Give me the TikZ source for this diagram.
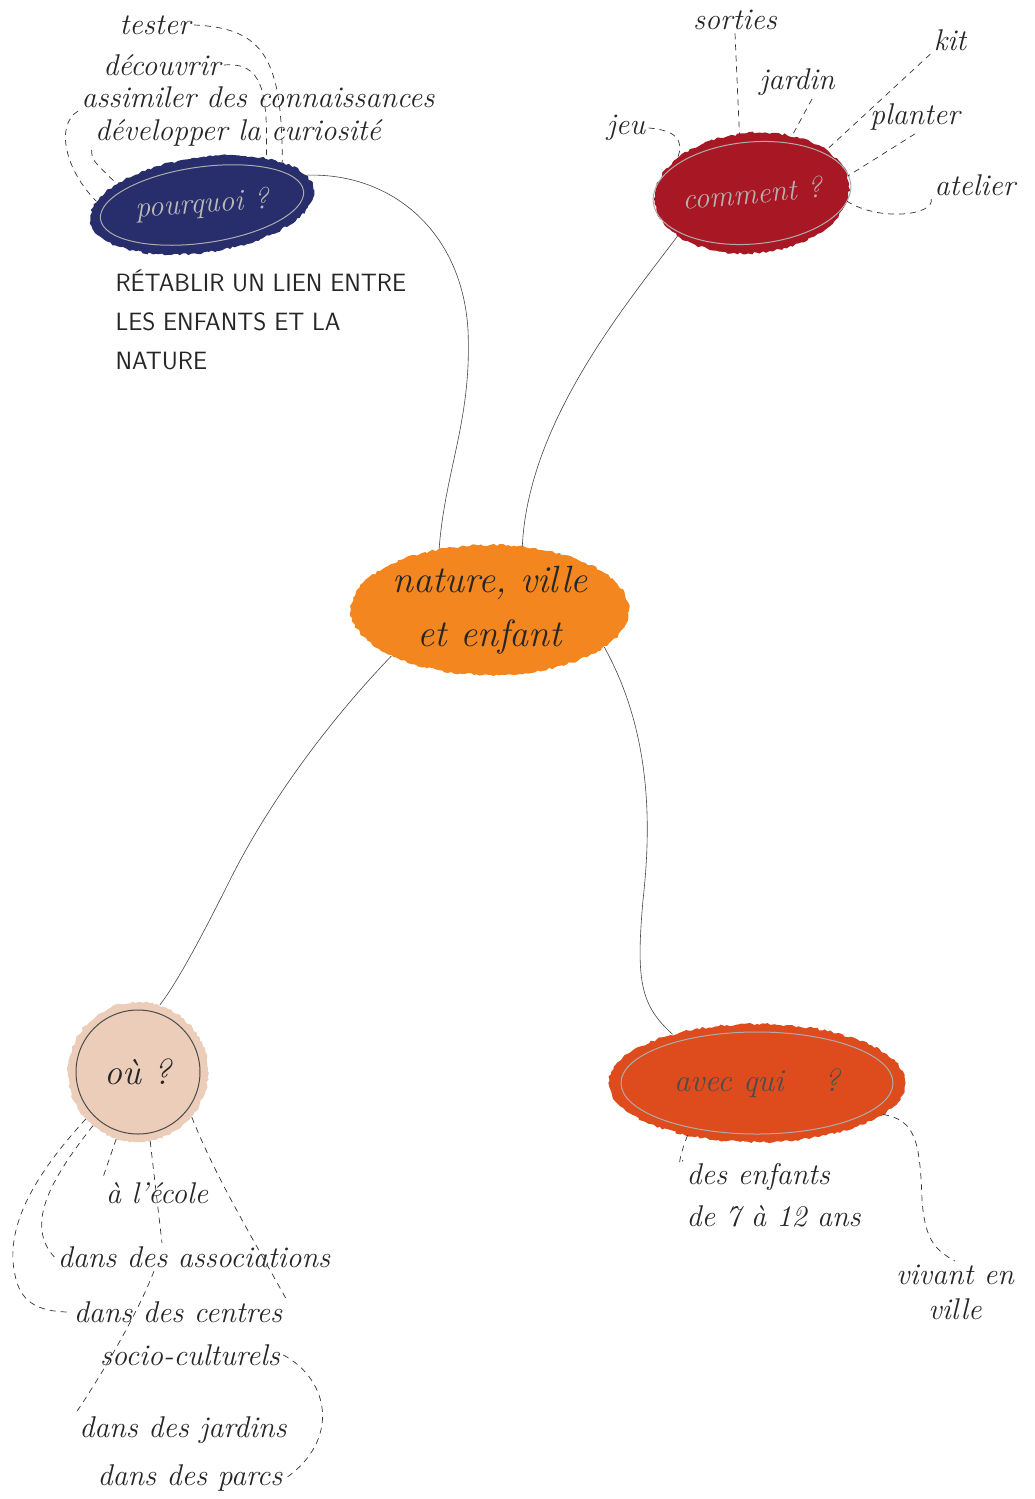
\documentclass[tikz,border=0pt]{standalone}
\usepackage{fontspec}
\usetikzlibrary{shapes.geometric,decorations.pathmorphing}

\definecolor{pqblue}{RGB}{40,45,108}
\definecolor{cmred}{RGB}{168,24,36}
\definecolor{ctorange}{RGB}{244,134,32}
\definecolor{oupeach}{RGB}{235,205,186}
\definecolor{aqorange}{RGB}{222,76,30}

\begin{document}
\begin{tikzpicture}[x=1pt, y=-1pt,
  every node/.style={font=\fontsize{30}{42}\selectfont\itshape, text=black!85},
  blob/.style={ellipse, inner sep=0pt, decorate, decoration={random steps, segment length=3pt, amplitude=1.2pt}},
  ring/.style={ellipse, draw=gray!65, line width=1pt, inner sep=0pt},
  caps/.style={font=\fontsize{25}{39}\selectfont\sffamily, align=left},
  link/.style={gray!55!black, line width=.6pt},
  hint/.style={dashed, dash pattern=on 6pt off 5pt, line width=.7pt, black!80}]

\path [use as bounding box, fill=white] (0,0) rectangle (1035,1499);

\node [blob, fill=pqblue, minimum width=225, minimum height=95, rotate=8] (pq) at (202,205) {};
\node [ring, minimum width=205, minimum height=76, rotate=8] (pqring) at (pq) {};
\node [text=gray!55, rotate=4] (pqtext) at (pq) {pourquoi ?};
\node [blob, fill=cmred, minimum width=195, minimum height=120, rotate=5] (cm) at (752,193) {};
\node [ring, minimum width=186, minimum height=102, rotate=5, text=gray!60] (cmring) at (cm) {comment ?};
\node [blob, fill=ctorange, minimum width=278, minimum height=130, align=center, font=\fontsize{38}{54}\selectfont\itshape] (ctr) at (490,610) {nature, ville\\et enfant};
\node [blob, fill=oupeach, minimum size=140] (ou) at (138,1072) {};
\node [ellipse, draw=black!70, line width=1pt, minimum size=124, font=\fontsize{36}{40}\selectfont\itshape] (ouring) at (ou) {où ?};
\node [blob, fill=aqorange, minimum width=297, minimum height=118] (aq) at (757,1083) {};
\node [ring, minimum width=272, minimum height=102, text=black!70, font=\fontsize{32}{40}\selectfont\itshape] (aqring) at (aq) {avec qui\hspace{40pt}?};

\node (tester) at (155,25) {tester};
\node (decouvrir) at (162,65) {découvrir};
\node (assimiler) at (258,97) {assimiler des connaissances};
\node (developper) at (238,133) {développer la curiosité};
\node [caps, anchor=north west] (retablir) at (112,266) {RÉTABLIR UN LIEN ENTRE\\LES ENFANTS ET LA\\NATURE};

\node (sorties) at (735,20) {sorties};
\node (jardin) at (797,82) {jardin};
\node (kit) at (950,40) {kit};
\node (jeu) at (626,128) {jeu};
\node (planter) at (915,117) {planter};
\node (atelier) at (975,185) {atelier};

\node (ecole) at (157,1193) {à l'école};
\node (assoc) at (194,1257) {dans des associations};
\node (centres) at (178,1312) {dans des centres};
\node (socio) at (190,1355) {socio-culturels};
\node (jardins) at (183,1430) {dans des jardins};
\node (parcs) at (190,1478) {dans des parcs};

\node [anchor=north west, align=left] (enfants) at (683,1160) {des enfants\\de 7 à 12 ans};
\node [align=center, font=\fontsize{30}{35}\selectfont\itshape] (vivant) at (955,1292) {vivant en\\ville};

\draw [link] (ctr.130) .. controls (445,470) and (472,420) .. (468,330) .. controls (462,230) and (390,172) .. (pq.8);
\draw [link] (ctr.63) .. controls (528,420) and (630,300) .. (cm.205);
\draw [link] (ctr.205) .. controls (330,720) and (270,800) .. (230,880) .. controls (195,950) and (175,985) .. (ou.72);
\draw [link] (ctr.-18) .. controls (650,730) and (652,820) .. (643,900) .. controls (636,980) and (640,1005) .. (aq.150);

\draw [hint] (tester.east) .. controls (265,28) and (282,60) .. (pq.20);
\draw [hint] (decouvrir.east) .. controls (262,62) and (268,90) .. (pq.28);
\draw [hint] (assimiler.south west) .. controls (55,125) and (65,170) .. (pq.170);
\draw [hint] (developper.south west) .. controls (92,160) .. (pq.158);

\draw [hint] (sorties.south) -- (cm.97);
\draw [hint] ([xshift=15]jardin.south) -- (cm.50);
\draw [hint] (jeu.east) .. controls (675,130) and (685,140) .. (cm.150);
\draw [hint] (kit.south west) -- (cm.25);
\draw [hint] (planter.south) -- (cm.5);
\draw [hint] (atelier.south west) .. controls (935,215) and (880,222) .. (cm.-10);

\draw [hint] (ou.222) .. controls (30,1180) and (5,1230) .. (15,1275) .. controls (20,1300) and (35,1312) .. (centres.west);
\draw [hint] (ou.230) .. controls (50,1180) and (25,1225) .. (assoc.west);
\draw [hint] (ou.252) -- (ecole.north west);
\draw [hint] (ou.280) -- ([xshift=-32]assoc.north);
\draw [hint] ([xshift=-40]assoc.south) .. controls (135,1320) and (95,1385) .. (jardins.north west);
\draw [hint] (ou.-40) .. controls (215,1175) and (245,1225) .. (centres.north east);
\draw [hint] (socio.east) .. controls (330,1380) and (340,1440) .. (parcs.east);

\draw [hint] (aq.217) .. controls (678,1160) and (678,1170) .. (enfants.north west);
\draw [hint] (aq.-14) .. controls (915,1120) and (920,1140) .. (922,1200) .. controls (925,1240) and (935,1250) .. (vivant.north);

\end{tikzpicture}
\end{document}
